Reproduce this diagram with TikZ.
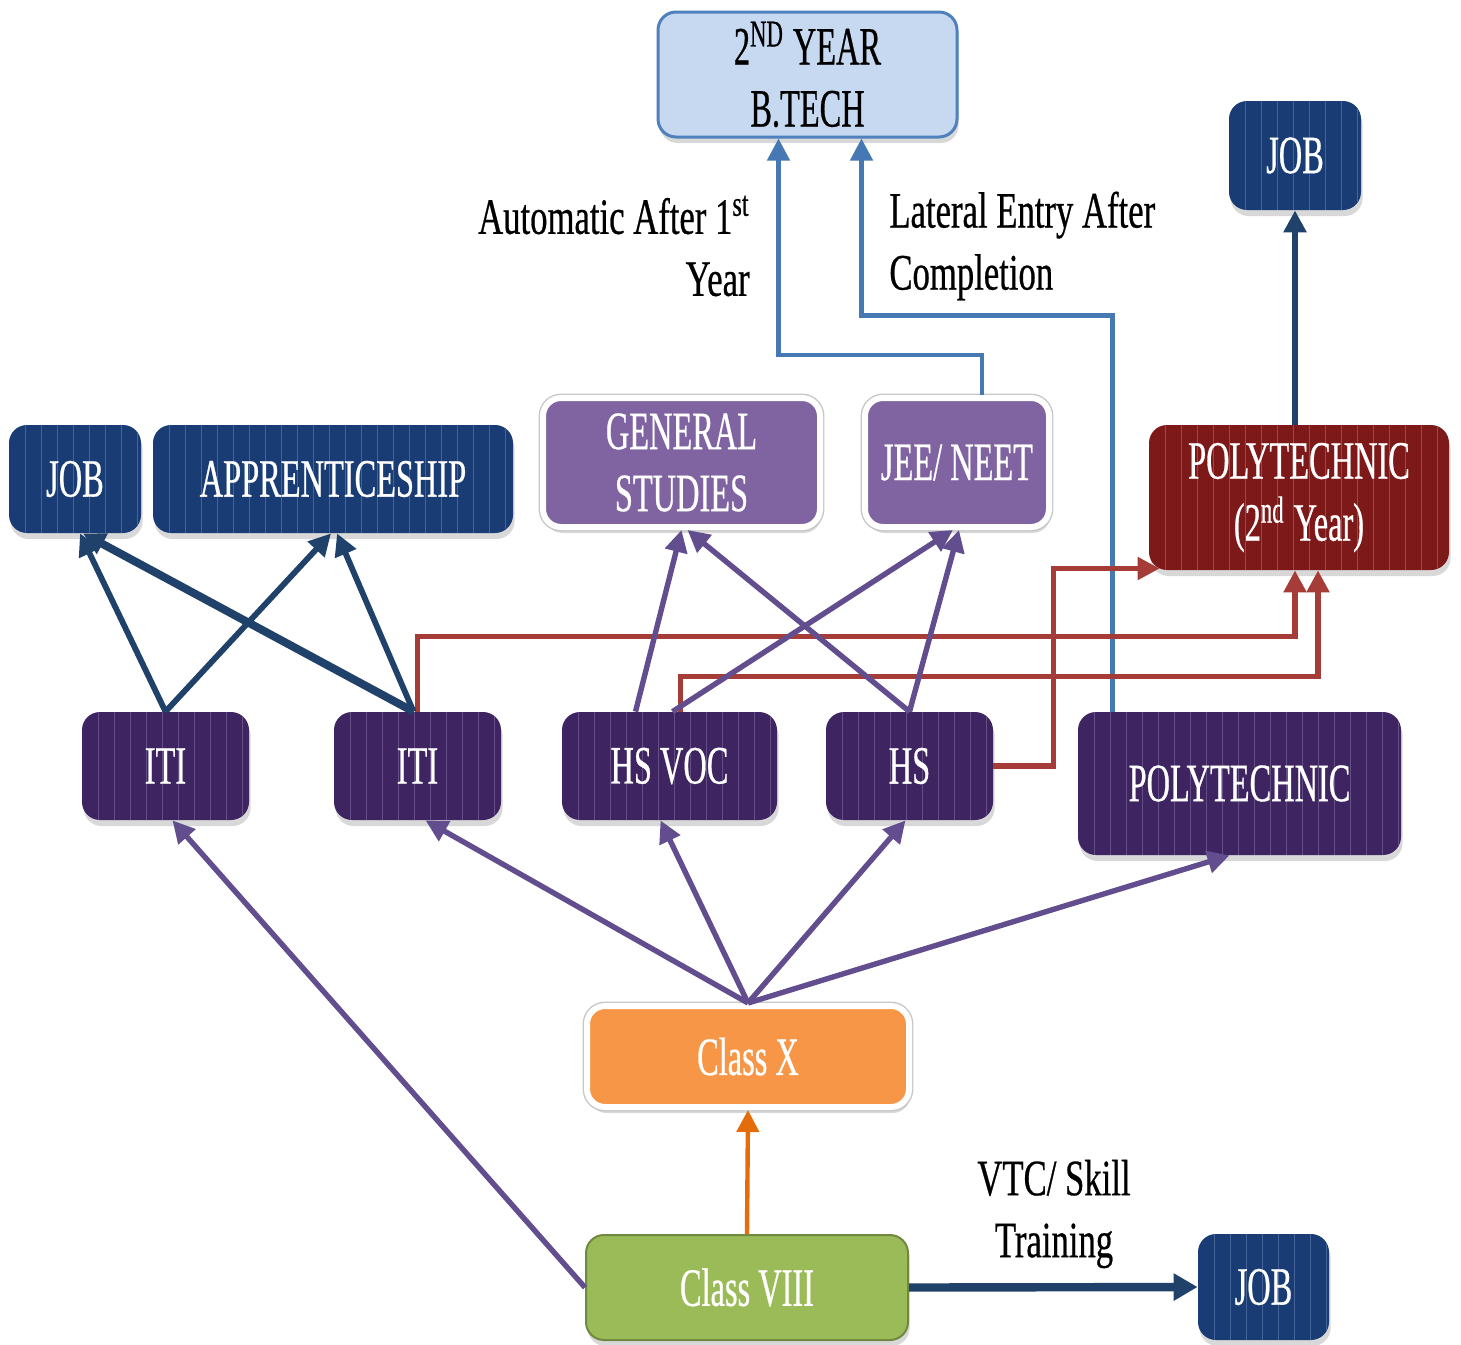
\documentclass[tikz,border=0pt]{standalone}
\usepackage{fontspec}
\setmainfont{Liberation Serif}[FakeStretch=0.6, FakeBold=0.5]
\newfontfamily\lblfamily{Liberation Serif}[FakeStretch=0.68, FakeBold=0.5]
\usetikzlibrary{arrows.meta,shadows,calc}

\definecolor{navy}{RGB}{24,60,115}
\definecolor{navyS}{RGB}{70,100,150}
\definecolor{dpurple}{RGB}{62,36,96}
\definecolor{dpurpleS}{RGB}{100,80,135}
\definecolor{dred}{RGB}{125,25,25}
\definecolor{dredS}{RGB}{155,72,72}
\definecolor{lpurple}{RGB}{128,100,162}
\definecolor{orangeF}{RGB}{247,150,70}
\definecolor{greenF}{RGB}{155,187,89}
\definecolor{greenD}{RGB}{113,137,63}
\definecolor{lblue}{RGB}{198,217,241}
\definecolor{bblue}{RGB}{79,129,189}
\definecolor{arrNavy}{RGB}{32,66,106}
\definecolor{arrPurple}{RGB}{98,78,142}
\definecolor{arrRed}{RGB}{165,60,55}
\definecolor{arrBlue}{RGB}{70,120,180}
\definecolor{arrOrange}{RGB}{228,108,10}

\newcommand\bxfont{\fontsize{27}{31}\selectfont}
\newcommand\lbfont{\lblfamily\fontsize{25.5}{31}\selectfont}

\tikzset{
  box/.style={rectangle, rounded corners=9pt, inner sep=0pt, align=center,
    text=white, font=\bxfont,
    drop shadow={shadow xshift=0.8pt, shadow yshift=-3pt, opacity=0.3}},
  striped/.style={path picture={
    \foreach \k in {1,...,50}{
      \draw[#1, line width=0.45pt]
        ([xshift=\k*8pt]path picture bounding box.south west) --
        ([xshift=\k*8pt]path picture bounding box.north west);}}},
  navybox/.style={box, fill=navy, striped=navyS},
  dpbox/.style={box, fill=dpurple, striped=dpurpleS},
  redbox/.style={box, fill=dred, striped=dredS},
  rimbox/.style={box, draw=white, line width=3pt,
    preaction={draw=black!22, line width=4.4pt}},
  lpbox/.style={rimbox, fill=lpurple},
  orbox/.style={rimbox, fill=orangeF},
  grbox/.style={box, fill=greenF, draw=greenD, line width=1pt},
  btbox/.style={box, fill=lblue, draw=bblue, line width=1.5pt, text=black},
  lbl/.style={inner sep=0pt, font=\lbfont, text=black},
  conn/.style={line width=#1, -{Triangle[length=11pt,width=11pt]}},
  navyconn/.style={conn=2.9pt, draw=arrNavy},
  purpconn/.style={conn=2.7pt, draw=arrPurple},
  redconn/.style={conn=2.6pt, draw=arrRed},
  blueconn/.style={conn=2.3pt, draw=arrBlue},
}

\begin{document}
\begin{tikzpicture}[x=0.5pt,y=-0.5pt]
\useasboundingbox[fill=white] (0,0) rectangle (1461,1344);

% nodes
\node[btbox, minimum width=149.5pt, minimum height=62.5pt] (btech) at (807.5,74.5)
  {2\textsuperscript{ND}\,YEAR\\B.TECH};
\node[navybox, minimum width=66pt, minimum height=54.5pt] (job2) at (1295,155.5) {JOB};
\node[navybox, minimum width=66pt, minimum height=54pt] (job1) at (75,479) {JOB};
\node[navybox, minimum width=180pt, minimum height=54pt] (appr) at (333,479) {APPRENTICESHIP};
\node[lpbox, minimum width=138.5pt, minimum height=64.5pt] (gen) at (681.5,462.5) {GENERAL\\STUDIES};
\node[lpbox, minimum width=92pt, minimum height=64.5pt] (jee) at (957,462.5) {JEE/ NEET};
\node[redbox, minimum width=150pt, minimum height=72.5pt] (poly2) at (1299,497.5)
  {POLYTECHNIC\\(2\textsuperscript{nd}\,Year)};
\node[dpbox, minimum width=83.5pt, minimum height=54pt] (iti1) at (165.5,766) {ITI};
\node[dpbox, minimum width=83.5pt, minimum height=54pt] (iti2) at (417.5,766) {ITI};
\node[dpbox, minimum width=107.5pt, minimum height=54pt] (hsvoc) at (669.5,766) {HS VOC};
\node[dpbox, minimum width=83.5pt, minimum height=54pt] (hs) at (909.5,766) {HS};
\node[dpbox, minimum width=161.5pt, minimum height=71.5pt] (poly) at (1239.5,783.5) {POLYTECHNIC};
\node[orbox, minimum width=161pt, minimum height=50.5pt] (classx) at (748,1056.5) {Class X};
\node[grbox, minimum width=161pt, minimum height=52.5pt] (class8) at (747,1287.5) {Class VIII};
\node[navybox, minimum width=65.5pt, minimum height=53pt] (job3) at (1263.5,1287) {JOB};

% labels
\node[lbl, align=right, anchor=east] (lauto) at (750,246)
  {Automatic After 1\textsuperscript{st}\\Year};
\node[lbl, align=left, anchor=west] (llat) at (889,246)
  {Lateral Entry After\\Completion};
\node[lbl, align=center] (lvtc) at (1054,1214) {VTC/ Skill\\Training};

% blue connectors to B.Tech
\draw[blueconn] ([xshift=12.5pt]jee.north) -- ++(0,-40) -| ([xshift=-14.5pt]btech.south);
\draw[blueconn] ([xshift=-63.5pt]poly.north) -- ++(0,-396) -| ([xshift=27pt]btech.south);

% red connectors to Polytechnic 2nd year
\draw[redconn] (iti2.north) -- ++(0,-75) -| ([xshift=-2pt]poly2.south);
\draw[redconn] ([xshift=5.5pt]hsvoc.north) -- ++(0,-35) -| ([xshift=9.5pt]poly2.south);
\draw[redconn] (hs.east) -- ++(60,0) |- ([xshift=5.5pt,yshift=-35.5pt]poly2.west);

% navy connectors
\draw[navyconn] (poly2.north -| job2.south) -- (job2.south);
\draw[navyconn] (iti1.north) -- ([xshift=2.5pt]job1.south);
\draw[navyconn] (iti1.north) -- ([xshift=-1pt]appr.south);
\draw[navyconn, line width=4pt] ([xshift=-2pt]iti2.north) -- ([xshift=4pt]job1.south);
\draw[navyconn] ([xshift=-2pt]iti2.north) -- ([xshift=2pt]appr.south);

% purple connectors to general studies / JEE
\draw[purpconn] ([xshift=-17pt]hsvoc.north) -- ([xshift=0pt]gen.south);
\draw[purpconn] ([xshift=1.5pt]hsvoc.north) -- ([xshift=-2pt]jee.south);
\draw[purpconn] (hs.north) -- ([xshift=3pt]gen.south);
\draw[purpconn] (hs.north) -- ([xshift=1pt]jee.south);

% purple from Class X
\draw[purpconn] (classx.north) -- ([xshift=4pt]iti2.south);
\draw[purpconn] (classx.north) -- ([xshift=-4.5pt]hsvoc.south);
\draw[purpconn] (classx.north) -- ([xshift=-2pt]hs.south);
\draw[purpconn] (classx.north) -- ([xshift=-5pt]poly.south);

% from Class VIII
\draw[purpconn] (class8.west) -- ([xshift=3.5pt]iti1.south);
\draw[conn=2.2pt, draw=arrOrange] (class8.north) -- (classx.south);
\draw[line width=4.2pt, draw=arrNavy, -{Triangle[length=12pt,width=13pt]}] (class8.east) -- (job3.west);
\end{tikzpicture}
\end{document}
